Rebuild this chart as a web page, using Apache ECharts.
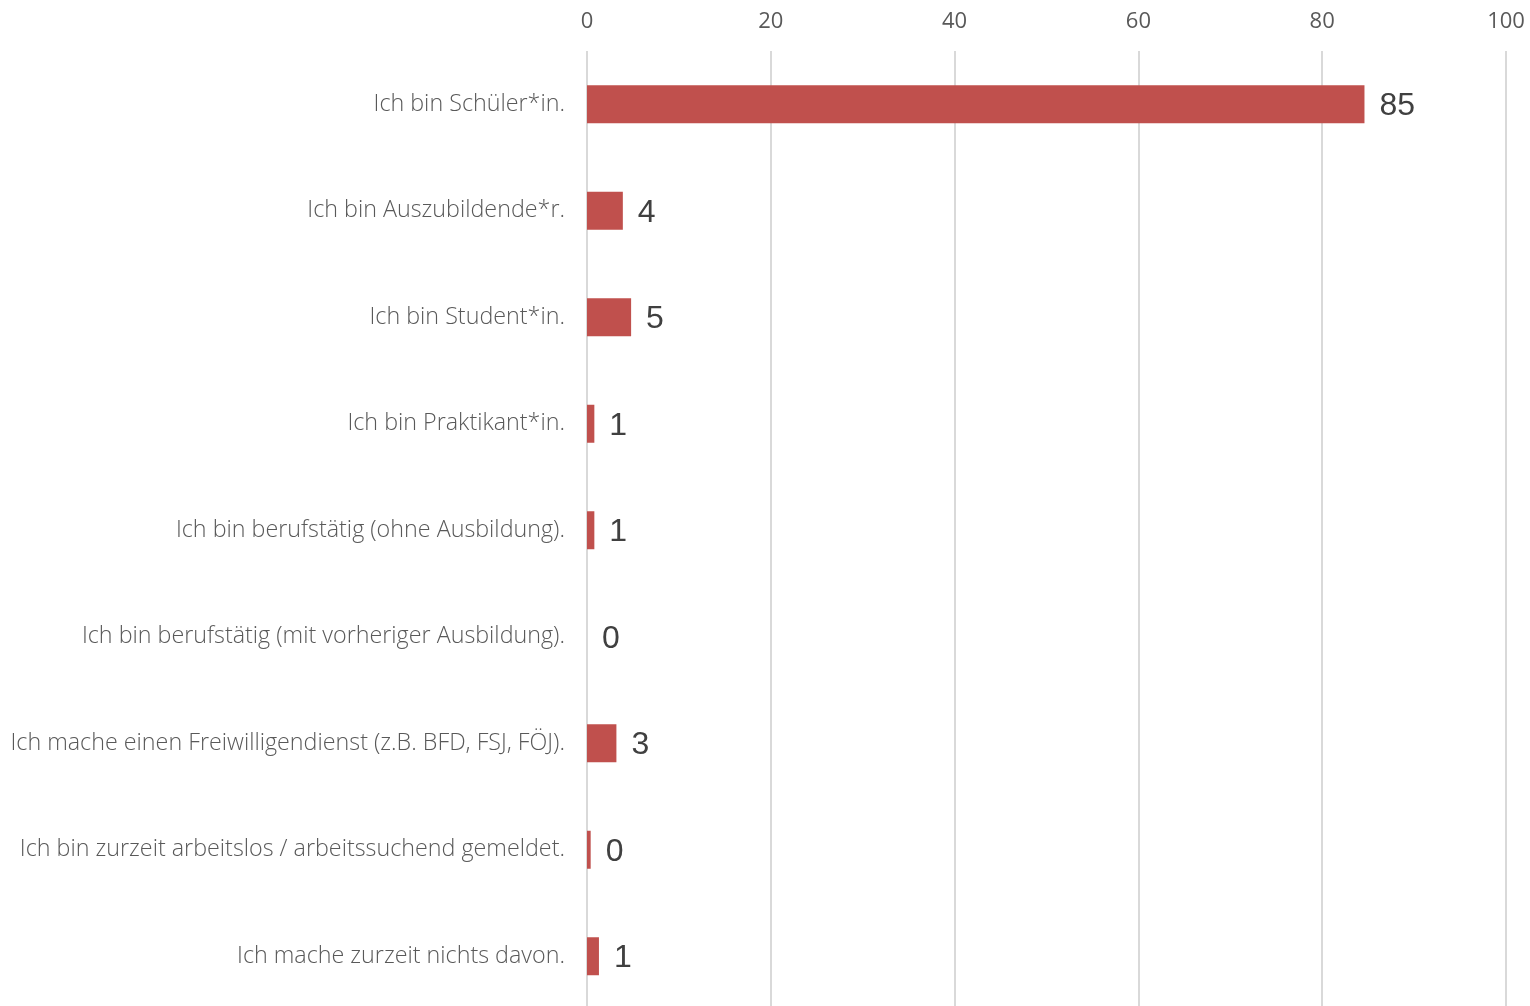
<!DOCTYPE html>
<html>
<head>
<meta charset="utf-8">
<script src="https://cdn.jsdelivr.net/npm/echarts@6/dist/echarts.min.js"></script>
<style>html,body{margin:0;padding:0;background:#fff}#c{width:1530px;height:1006px}</style>
</head>
<body>
<div id="c"></div>
<script>
const categories = [
  "Ich bin Schüler*in.",
  "Ich bin Auszubildende*r.",
  "Ich bin Student*in.",
  "Ich bin Praktikant*in.",
  "Ich bin berufstätig (ohne Ausbildung).",
  "Ich bin berufstätig (mit vorheriger Ausbildung).",
  "Ich mache einen Freiwilligendienst (z.B. BFD, FSJ, FÖJ).",
  "Ich bin zurzeit arbeitslos / arbeitssuchend gemeldet.",
  "Ich mache zurzeit nichts davon."
];
const values = [84.6, 3.9, 4.8, 0.8, 0.8, 0.0, 3.2, 0.4, 1.3];
const xTicks = [0, 20, 40, 60, 80, 100];

const chart = echarts.init(document.getElementById('c'));
chart.setOption({
  animation: false,
  grid: { left: 587, right: 24, top: 51, height: 958.5, containLabel: false, outerBoundsMode: 'none' },
  xAxis: {
    type: 'value', position: 'top', min: xTicks[0], max: xTicks[xTicks.length-1], interval: 20,
    axisLine: { show: false }, axisTick: { show: false },
    splitLine: { show: true, lineStyle: { color: '#d9d9d9', width: 2 } },
    axisLabel: { color: '#595959', fontSize: 22, fontFamily: 'Open Sans', margin: 18 }
  },
  yAxis: {
    type: 'category', data: categories, inverse: true,
    axisLine: { show: false }, axisTick: { show: false },
    axisLabel: { color: '#595959', fontSize: 23.3, fontWeight: 300, fontFamily: 'Open Sans', margin: 22 }
  },
  series: [{
    type: 'bar', data: values, barWidth: 38,
    itemStyle: { color: '#c0504d' },
    label: {
      show: true, position: 'right', distance: 15, offset: [0, 2],
      color: '#404040', fontSize: 32, fontFamily: 'Liberation Sans',
      formatter: p => String(Math.round(p.value))
    }
  }]
});
</script>
</body>
</html>
